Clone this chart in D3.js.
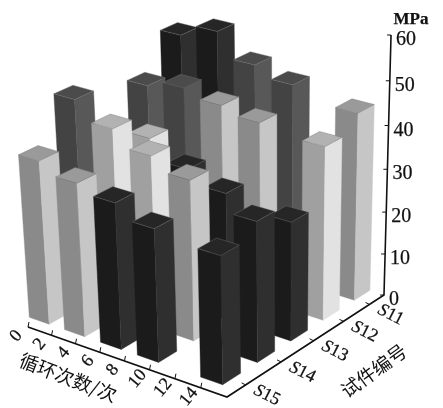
<!DOCTYPE html>
<html>
<head>
<meta charset="utf-8">
<script src="https://cdn.jsdelivr.net/npm/d3@7"></script>
<style>
html, body { margin: 0; background: #fff; }
svg { display: block; filter: blur(0.4px); }
</style>
</head>
<body>
<div id="chart"></div>
<script>
// cycle counts of the bars, specimens, axis ticks
const cycles = [0, 3, 6, 9, 14];
const specimens = ['S11', 'S12', 'S13', 'S14', 'S15'];
const rowPositions = [0.3, 1.55, 2.8, 4.05, 5.3]; // where each specimen row stands on the floor
const specimenTicks = [0.6, 1.65, 2.82, 4.05, 5.34];
const cycleTicks = [0, 2, 4, 6, 8, 10, 12, 14];
const strengthTicks = [0, 10, 20, 30, 40, 50, 60];

// strength in MPa, one row per specimen (null = not visible)
const valuesS11 = [51.3, 54.2, 48.7, 46.4, 43.8];
const valuesS12 = [43.3, 45, 43.3, 41.7, 40.3];
const valuesS13 = [null, 37.4, 32.8, 29.8, 27.6];
const valuesS14 = [47.7, 43.5, 39.9, 37, 32.2];
const valuesS15 = [38, 35.5, 33.7, 30.6, 29.2];

// grey group of every bar
const shadesS11 = ['black', 'black', 'dark', 'dark', 'mid'];
const shadesS12 = ['dark', 'dark', 'mid', 'mid', 'light'];
const shadesS13 = [null, 'light', 'black', 'black', 'black'];
const shadesS14 = ['dark', 'light', 'light', 'mid', 'black'];
const shadesS15 = ['mid', 'mid', 'black', 'black', 'black'];

const values = [valuesS11, valuesS12, valuesS13, valuesS14, valuesS15];
const shades = [shadesS11, shadesS12, shadesS13, shadesS14, shadesS15];

const greys = {
    black: { front: '#1b1b1b', side: '#2f2f2f', top: '#262626' },
    dark: { front: '#434343', side: '#585858', top: '#4b4b4b' },
    mid: { front: '#8a8a8a', side: '#c6c6c6', top: '#9a9a9a' },
    light: { front: '#a0a0a0', side: '#e2e2e2', top: '#b2b2b2' }
};

const width = 443;
const height = 408;

// floor corners in pixels, the camera is set from these
const back = [192, 236];
const right = [384, 295];
const front = [227, 397];
const left = [28, 327];
const vanish = [281, 4100];
const axisTop = 35;

const xScale = d3.scaleLinear().domain([0, 16]).range([0, 1]);
const yScale = d3.scaleLinear().domain([0, 6]).range([0, 1]);
const zScale = d3.scaleLinear().domain([0, 60]).range([0, 1]);

// homography of the floor
const dx1 = right[0] - front[0], dx2 = left[0] - front[0];
const dy1 = right[1] - front[1], dy2 = left[1] - front[1];
const sx = back[0] - right[0] + front[0] - left[0];
const sy = back[1] - right[1] + front[1] - left[1];
const det = dx1 * dy2 - dx2 * dy1;
const g = (sx * dy2 - dx2 * sy) / det;
const h = (dx1 * sy - sx * dy1) / det;
const wz = (g + 1) * (axisTop - right[1]) / (vanish[1] - axisTop);

function project(a, s, mpa) {
    const u = xScale(a), v = yScale(s), z = zScale(mpa);
    const w = g * u + h * v + 1 + wz * z;
    const px = (right[0] - back[0] + g * right[0]) * u + (left[0] - back[0] + h * left[0]) * v + back[0] + wz * z * vanish[0];
    const py = (right[1] - back[1] + g * right[1]) * u + (left[1] - back[1] + h * left[1]) * v + back[1] + wz * z * vanish[1];
    return [px / w, py / w];
}

const svg = d3.select('#chart').append('svg')
    .attr('width', width)
    .attr('height', height);

const face = d3.line().curve(d3.curveLinearClosed);
const halfA = 0.85; // half a bar along the cycle axis
const halfS = 0.32; // half a bar along the specimen axis

// back to front so nearer bars cover the others
const bars = svg.append('g');
specimens.forEach((name, r) => {
    cycles.forEach((c, i) => {
        const mpa = values[r][i];
        if (mpa === null) return;
        const s = rowPositions[r];
        const col = greys[shades[r][i]];
        const a0 = c - halfA, a1 = c + halfA, s0 = s - halfS, s1 = s + halfS;
        const bar = bars.append('g');
        // front face looks at the cycle axis, side face at the specimen axis
        bar.append('path')
            .attr('d', face([project(a0, s1, 0), project(a1, s1, 0), project(a1, s1, mpa), project(a0, s1, mpa)]))
            .attr('fill', col.front).attr('stroke', col.front).attr('stroke-width', 0.4);
        bar.append('path')
            .attr('d', face([project(a1, s1, 0), project(a1, s0, 0), project(a1, s0, mpa), project(a1, s1, mpa)]))
            .attr('fill', col.side).attr('stroke', col.side).attr('stroke-width', 0.4);
        bar.append('path')
            .attr('d', face([project(a0, s1, mpa), project(a1, s1, mpa), project(a1, s0, mpa), project(a0, s0, mpa)]))
            .attr('fill', col.top).attr('stroke', '#777').attr('stroke-width', 0.4);
    });
});

// axes
const axes = svg.append('g')
    .attr('fill', 'none')
    .attr('stroke', '#111')
    .attr('stroke-width', 1.6);
const axisLine = d3.line();
axes.append('path').attr('d', axisLine([project(0, 6, 0), project(16, 6, 0), project(16, 0, 0), project(16, 0, 60)]));

const labels = svg.append('g')
    .attr('font-family', '"Liberation Serif", serif')
    .attr('fill', '#111')
    .attr('stroke', '#111')
    .attr('stroke-width', 0.25)
    .attr('font-size', 20)
    .attr('text-anchor', 'middle');

cycleTicks.forEach(t => {
    const p = project(t, 6, 0);
    axes.append('path').attr('d', axisLine([[p[0], p[1]], [p[0] + 1, p[1] - 5]])).attr('stroke-width', 1);
    labels.append('text')
        .attr('transform', `translate(${p[0] - 13},${p[1] + 8}) rotate(-50)`)
        .attr('dy', '0.35em')
        .attr('font-size', 18)
        .text(t);
});

specimens.forEach((name, r) => {
    const p = project(16, specimenTicks[r], 0);
    axes.append('path').attr('d', axisLine([[p[0], p[1]], [p[0] - 4, p[1] - 2]])).attr('stroke-width', 1);
    const t = labels.append('text')
        .attr('transform', `translate(${p[0] + 22},${p[1] + 9}) rotate(27)`)
        .attr('dy', '0.35em')
        .attr('font-size', 18);
    t.append('tspan').attr('font-style', 'italic').text(name.slice(0, 1));
    t.append('tspan').text(name.slice(1));
});

strengthTicks.forEach(t => {
    const p = project(16, 0, t);
    axes.append('path').attr('d', axisLine([p, [p[0] - 4, p[1]]])).attr('stroke-width', 1);
    labels.append('text')
        .attr('x', p[0] + 5)
        .attr('y', p[1] + 3)
        .attr('dy', '0.35em')
        .attr('text-anchor', 'start')
        .text(t);
});

labels.append('text')
    .attr('x', 411).attr('y', 18).attr('dy', '0.35em')
    .attr('font-weight', 'bold').attr('font-size', 17)
    .text('MPa');

const titles = svg.append('g')
    .attr('font-family', '"Noto Sans CJK SC", sans-serif')
    .attr('fill', '#111')
    .attr('font-size', 19)
    .attr('text-anchor', 'middle');
titles.append('text')
    .attr('transform', 'translate(68,378) rotate(21)')
    .attr('dy', '0.35em')
    .text('循环次数/次');
titles.append('text')
    .attr('transform', 'translate(374,371) rotate(-36)')
    .attr('dy', '0.35em')
    .text('试件编号');
</script>
</body>
</html>
